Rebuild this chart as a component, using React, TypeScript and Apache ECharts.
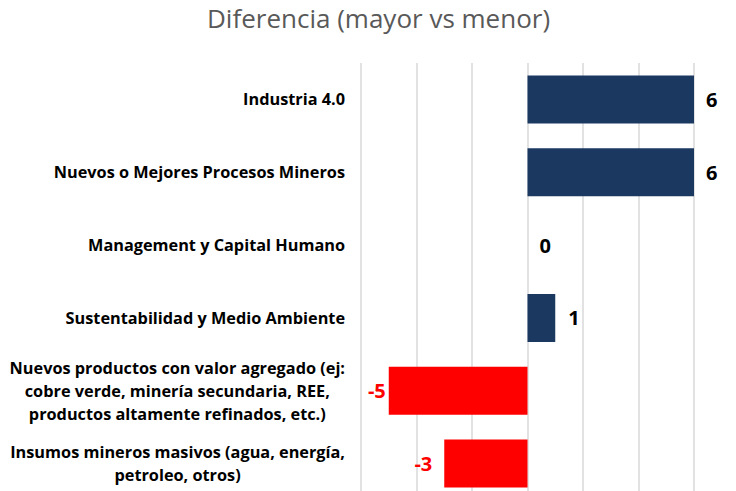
import React, { useEffect, useRef } from "react";
import * as echarts from "echarts";

const titleText = "Diferencia (mayor vs menor)";
const categories = [
  "Industria 4.0",
  "Nuevos o Mejores Procesos Mineros",
  "Management y Capital Humano",
  "Sustentabilidad y Medio Ambiente",
  "Nuevos productos con valor agregado (ej:\ncobre verde, minería secundaria, REE,\nproductos altamente refinados, etc.)",
  "Insumos mineros masivos (agua, energía,\npetroleo, otros)",
];
const values = [6, 6, 0, 1, -5, -3];
const labelDistances = [12, 12, 12, 13, 3, 12];

const NAVY = "#1B3860";
const RED = "#FF0000";

export default function App() {
  const ref = useRef<HTMLDivElement>(null);
  useEffect(() => {
    if (!ref.current) return;
    const chart = echarts.init(ref.current, null, { renderer: "svg" });
    const data = values.map((v, i) => ({
      value: v,
      itemStyle: { color: v < 0 ? RED : NAVY },
      label: {
        show: true,
        position: v < 0 ? "left" : "right",
        distance: labelDistances[i],
        color: v < 0 ? RED : "#000000",
        fontWeight: "bold",
        fontSize: 20,
        fontFamily: "Open Sans",
      },
    }));
    chart.setOption({
      animation: false,
      title: {
        text: titleText,
        left: 202,
        top: 0,
        textStyle: {
          fontFamily: "Open Sans",
          fontWeight: "normal",
          fontSize: 26,
          color: "#595959",
        },
      },
      grid: { left: 361, right: 42, top: 63, height: 437, containLabel: false },
      xAxis: {
        type: "value",
        min: -6,
        max: 6,
        interval: 2,
        axisLabel: { show: false },
        axisLine: { show: false },
        axisTick: { show: false },
        splitLine: { show: true, lineStyle: { color: "#D9D9D9", width: 1.5 } },
      },
      yAxis: {
        type: "category",
        inverse: true,
        data: categories,
        axisLine: { show: false },
        axisTick: { show: false },
        axisLabel: {
          margin: 16,
          align: "right",
          formatter: (s: string) =>
            s
              .split("\n")
              .map((l) => `{c|${l}}`)
              .join("\n"),
          rich: {
            c: {
              align: "center",
              fontFamily: "Open Sans",
              fontWeight: "bold",
              fontSize: 16.3,
              lineHeight: 23,
              color: "#000000",
            },
          },
        },
      },
      series: [
        {
          type: "bar",
          data,
          barWidth: "66%",
        },
      ],
    });
    return () => chart.dispose();
  }, []);
  return (
    <div
      ref={ref}
      style={{ position: "fixed", left: 0, top: 0, width: 736, height: 510, background: "#fff" }}
    />
  );
}
